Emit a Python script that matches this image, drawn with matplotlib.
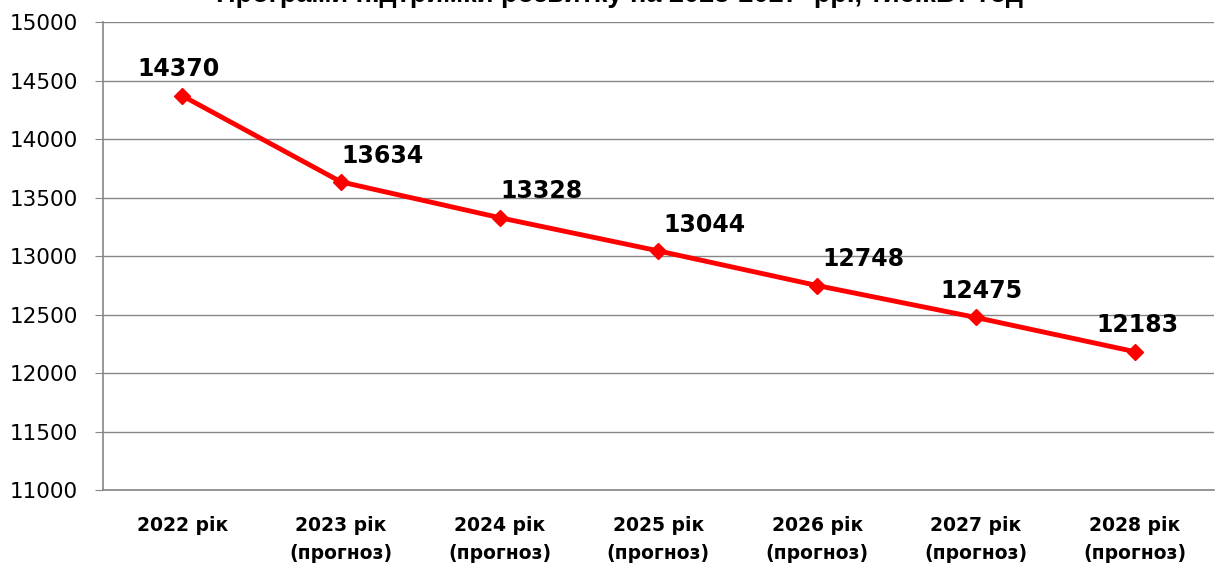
import matplotlib
matplotlib.use('Agg')
import matplotlib.pyplot as plt

# data
years = ['2022 рік', '2023 рік\n(прогноз)', '2024 рік\n(прогноз)', '2025 рік\n(прогноз)',
         '2026 рік\n(прогноз)', '2027 рік\n(прогноз)', '2028 рік\n(прогноз)']
values = [14370, 13634, 13328, 13044, 12748, 12475, 12183]
title = 'Програми підтримки розвитку на 2023-2027  рр., тис.кВт*год'

# label offsets in points (labels were moved by hand in the original)
label_dx = [-3, 30, 30, 33, 33, 4, 2]
label_dy = [19, 19, 19, 19, 19, 19, 19]

plt.rcParams['font.family'] = ['DejaVu Sans']

fig = plt.figure(figsize=(12.2, 5.67), dpi=100)
ax = fig.add_axes([0.0844, 0.1358, 0.9106, 0.8252])

x = range(len(values))
ax.plot(x, values, '-', color='#FF0000', linewidth=3.5, marker='D', markersize=8.5,
        markerfacecolor='#FF0000', markeredgecolor='#FF0000', zorder=3)

for i, v in enumerate(values):
    ax.annotate(str(v), (i, v), xytext=(label_dx[i], label_dy[i]), textcoords='offset points',
                ha='center', va='center', fontsize=17, fontweight='bold', color='black')

ax.set_xlim(-0.5, len(values) - 0.5)
ax.set_ylim(11000, 15000)
ax.set_yticks(range(11000, 15001, 500))
ax.set_xticks(list(x))
ax.set_xticklabels(years, fontsize=13.5, fontweight='bold', linespacing=1.6)
ax.tick_params(axis='x', length=0, pad=19)
ax.tick_params(axis='y', labelsize=15.5, length=6, color='#868686', pad=12)

ax.grid(axis='y', color='#868686', linewidth=1)
ax.set_axisbelow(True)
for s in ['top', 'right']:
    ax.spines[s].set_visible(False)
for s in ['left', 'bottom']:
    ax.spines[s].set_color('#868686')
    ax.spines[s].set_linewidth(1.2)

fig.text(0.508, 1.008, title, ha='center', va='center', fontsize=19.5, fontweight='bold',
         family='Liberation Sans')

plt.savefig('out.png', dpi=100)
